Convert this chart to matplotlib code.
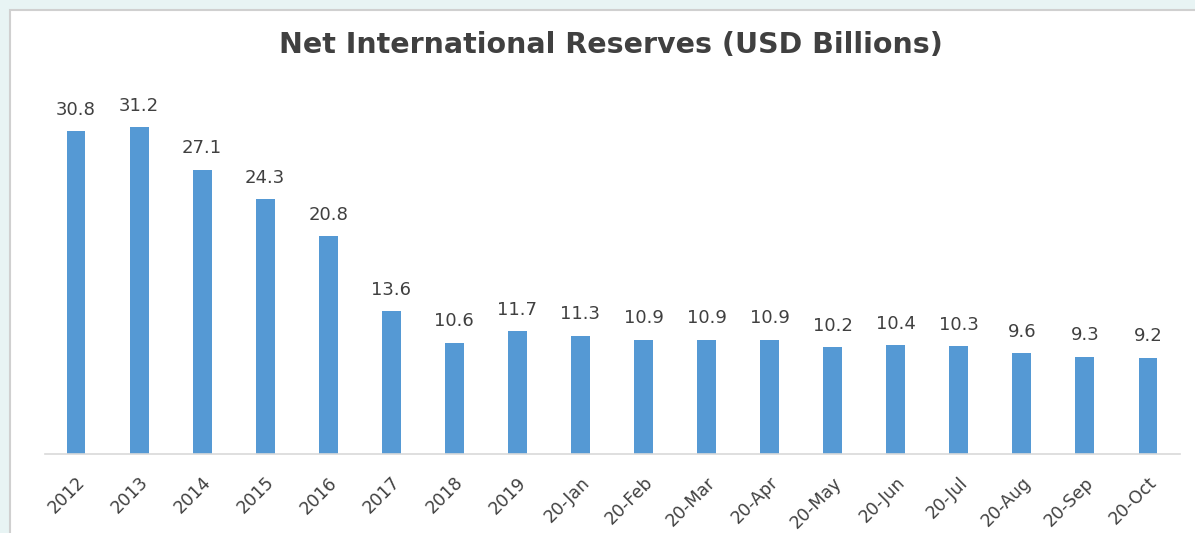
import matplotlib
matplotlib.use("Agg")
import matplotlib.pyplot as plt
from matplotlib.patches import Rectangle

categories = ["2012", "2013", "2014", "2015", "2016", "2017", "2018", "2019",
              "20-Jan", "20-Feb", "20-Mar", "20-Apr", "20-May", "20-Jun",
              "20-Jul", "20-Aug", "20-Sep", "20-Oct"]
values = [30.8, 31.2, 27.1, 24.3, 20.8, 13.6, 10.6, 11.7, 11.3, 10.9, 10.9,
          10.9, 10.2, 10.4, 10.3, 9.6, 9.3, 9.2]
title = "Net International Reserves (USD Billions)"

W, H = 1195, 533
fig = plt.figure(figsize=(W / 100, H / 100), dpi=100)
fig.patch.set_facecolor("#E8F4F4")

# white chart area with grey border
fig.patches.append(Rectangle((10 / W, -0.05), 1.1, (H - 10) / H + 0.05,
                             transform=fig.transFigure, facecolor="white",
                             edgecolor="#D0D0D0", linewidth=1.5, zorder=-5))

left, right = 44.5, 1179.5
bottom_px, top_px = 454, 87.2
ax = fig.add_axes([left / W, (H - bottom_px) / H, (right - left) / W,
                   (bottom_px - top_px) / H])
ax.set_zorder(2)
ax.set_facecolor("none")
x = list(range(len(categories)))
bars = ax.bar(x, values, width=0.3, color="#5599D4")
ax.set_xlim(-0.5, len(categories) - 0.5)
ax.set_ylim(0, 35)

for xi, v in zip(x, values):
    ax.annotate(f"{v:.1f}", (xi, v), xytext=(0, 9), textcoords="offset points",
                ha="center", va="bottom", fontsize=13, color="#404040",
                family="DejaVu Sans")

for s in ["top", "right", "left"]:
    ax.spines[s].set_visible(False)
ax.spines["bottom"].set_color("#D9D9D9")
ax.spines["bottom"].set_linewidth(1.2)
ax.set_yticks([])
ax.set_xticks(x)
ax.set_xticklabels(categories, rotation=45, ha="right", rotation_mode="anchor",
                   fontsize=12.5, color="#404040")
ax.tick_params(axis="x", length=0, pad=14)

fig.text(611 / W, (H - 45) / H, title, ha="center", va="center",
         fontsize=20.5, fontweight="bold", color="#404040", zorder=3)

fig.savefig("out.png", dpi=100, facecolor=fig.get_facecolor())
